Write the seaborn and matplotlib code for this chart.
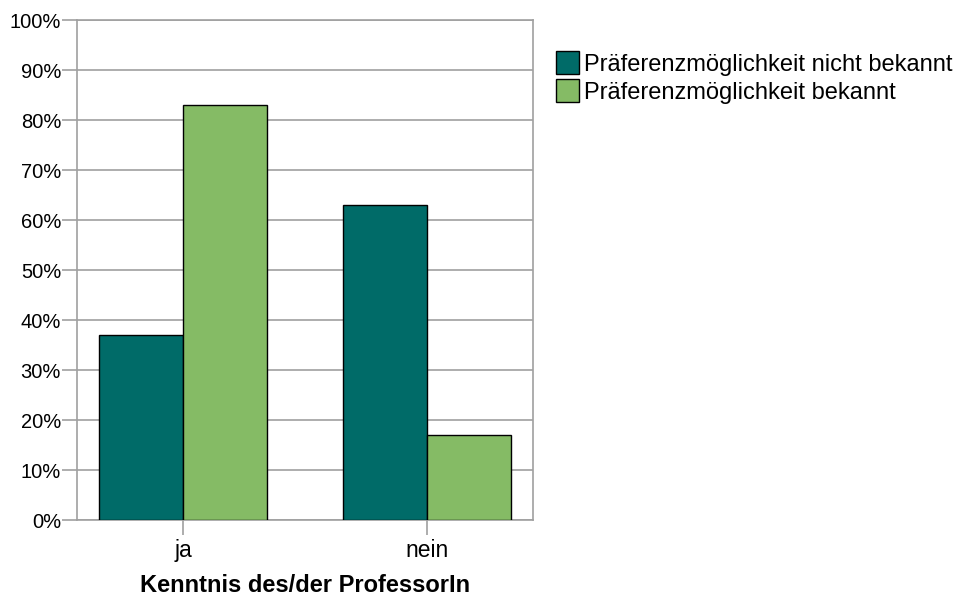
import pandas as pd
import matplotlib.pyplot as plt
import matplotlib.patches as mpatches
import seaborn as sns
from matplotlib.ticker import PercentFormatter

# data
categories = ['ja', 'nein']
series_names = ['Präferenzmöglichkeit nicht bekannt', 'Präferenzmöglichkeit bekannt']
nicht_bekannt = [37, 63]
bekannt = [83, 17]
colors = ['#006B68', '#85BB65']

df = pd.DataFrame({
    'Kenntnis': categories * 2,
    'Gruppe': [series_names[0]] * 2 + [series_names[1]] * 2,
    'Anteil': nicht_bekannt + bekannt,
})

sns.set_theme(style='white')
plt.rcParams['font.family'] = ['Liberation Sans', 'DejaVu Sans']
plt.rcParams['text.color'] = 'black'

fig = plt.figure(figsize=(9.6, 5.98), dpi=100)
ax = fig.add_axes([77 / 960, 78 / 598, 456 / 960, 500 / 598])

sns.barplot(data=df, x='Kenntnis', y='Anteil', hue='Gruppe', order=categories,
            hue_order=series_names, palette=colors, width=0.69, gap=0,
            edgecolor='black', linewidth=1, saturation=1, ax=ax, legend=False, zorder=3)

ax.set_xlim(-0.434, 1.434)
ax.set_ylim(0, 100)
ax.set_yticks(range(0, 101, 10))
ax.yaxis.set_major_formatter(PercentFormatter(decimals=0))
ax.grid(axis='y', color='#a0a0a0', linewidth=1.2, zorder=0)
ax.set_axisbelow(True)
for s in ax.spines.values():
    s.set_color('#a0a0a0')
    s.set_linewidth(1.2)
    s.set_visible(True)
# tick length in points: ~14 px at 100 dpi
ax.tick_params(axis='both', which='major', length=10.5, width=1.2, color='#a0a0a0',
               labelcolor='black', left=True, bottom=True)
ax.tick_params(axis='y', labelsize=14.5, pad=1)
ax.tick_params(axis='x', labelsize=16.5, pad=3)
ax.set_ylabel('')
ax.set_xlabel('Kenntnis des/der ProfessorIn', fontsize=17, fontweight='bold',
              labelpad=9, color='black')

handles = [mpatches.Patch(facecolor=c, edgecolor='black', linewidth=1) for c in colors]
leg = fig.legend(handles, series_names, loc='upper left',
                 bbox_to_anchor=(547 / 960, 1 - 42 / 598),
                 frameon=False, fontsize=17, handlelength=0.95, handleheight=1.1,
                 handletextpad=0.2, labelspacing=0.15, borderaxespad=0)
for t in leg.get_texts():
    t.set_color('black')

plt.savefig('out.png', dpi=100)
